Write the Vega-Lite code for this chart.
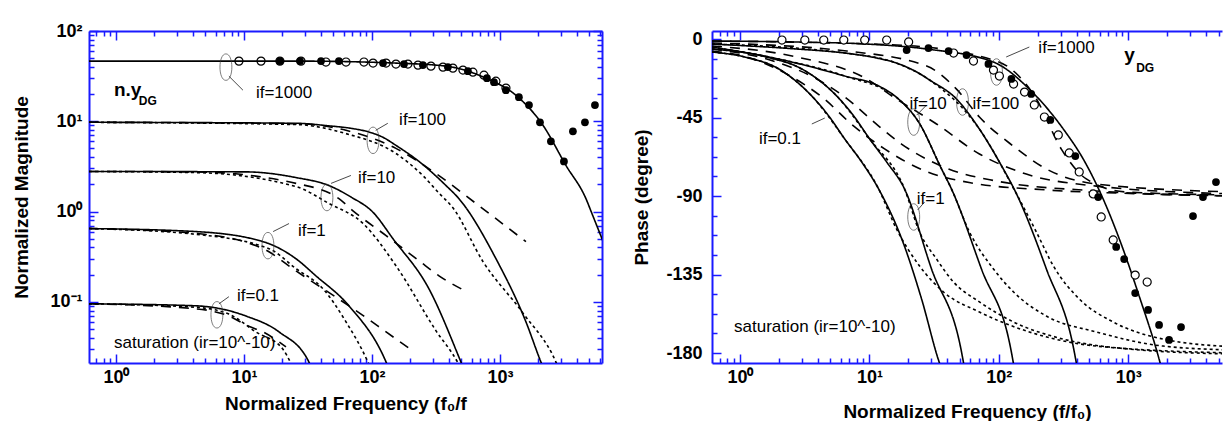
{
  "$schema": "https://vega.github.io/schema/vega-lite/v6.json",
  "padding": {"left": 12, "top": 22, "right": 0, "bottom": 0},
  "spacing": 110,
  "bounds": "flush",
  "background": "white",
  "config": {
    "view": {"stroke": null},
    "axis": {
      "grid": false,
      "domainColor": "#1a1aff",
      "domainWidth": 2,
      "tickColor": "#1a1aff",
      "tickWidth": 1.5,
      "labelFont": "Liberation Sans",
      "labelFontWeight": "bold",
      "labelFontSize": 18,
      "labelColor": "black",
      "labelOverlap": false,
      "labelFlush": false,
      "titleFont": "Liberation Sans",
      "titleFontWeight": "bold",
      "titleFontSize": 19,
      "titleColor": "black"
    }
  },
  "datasets": {
    "magCurves": [
      {"c":"1000s","s":"solid","f":0.616,"m":46.4},{"c":"1000s","s":"solid","f":25.5,"m":46.4},{"c":"1000s","s":"solid","f":154,"m":44.1},{"c":"1000s","s":"solid","f":379,"m":40.8},{"c":"1000s","s":"solid","f":777,"m":30.0},{"c":"1000s","s":"solid","f":1334,"m":19.4},{"c":"1000s","s":"solid","f":2168,"m":9.03},{"c":"1000s","s":"solid","f":3280,"m":3.24},{"c":"1000s","s":"solid","f":4696,"m":1.39},{"c":"1000s","s":"solid","f":5233,"m":0.95},{"c":"1000s","s":"solid","f":5829,"m":0.648},{"c":"1000s","s":"solid","f":6730,"m":0.388},

      {"c":"100s","s":"solid","f":0.616,"m":9.75},{"c":"100s","s":"solid","f":25.5,"m":9.5},{"c":"100s","s":"solid","f":46.1,"m":8.9},{"c":"100s","s":"solid","f":68.5,"m":8.36},{"c":"100s","s":"solid","f":94.8,"m":7.6},{"c":"100s","s":"solid","f":122,"m":6.64},{"c":"100s","s":"solid","f":154,"m":5.41},{"c":"100s","s":"solid","f":233,"m":3.59},{"c":"100s","s":"solid","f":379,"m":1.94},{"c":"100s","s":"solid","f":478,"m":1.39},{"c":"100s","s":"solid","f":931,"m":0.30},{"c":"100s","s":"solid","f":1596,"m":0.060},{"c":"100s","s":"solid","f":2091,"m":0.0215},{"c":"100s","s":"solid","f":2287,"m":0.0158},
      {"c":"100l","s":"long","f":0.616,"m":9.75},{"c":"100l","s":"long","f":25.5,"m":9.4},{"c":"100l","s":"long","f":62.7,"m":7.94},{"c":"100l","s":"long","f":154,"m":5.01},{"c":"100l","s":"long","f":316,"m":2.64},{"c":"100l","s":"long","f":649,"m":1.23},{"c":"100l","s":"long","f":1596,"m":0.464},
      {"c":"100d","s":"short","f":0.616,"m":9.75},{"c":"100d","s":"short","f":25.5,"m":9.2},{"c":"100d","s":"short","f":62.7,"m":7.3},{"c":"100d","s":"short","f":154,"m":4.4},{"c":"100d","s":"short","f":250,"m":2.5},{"c":"100d","s":"short","f":334,"m":1.6},{"c":"100d","s":"short","f":429,"m":1.1},{"c":"100d","s":"short","f":736,"m":0.28},{"c":"100d","s":"short","f":1513,"m":0.075},{"c":"100d","s":"short","f":2738,"m":0.0215},{"c":"100d","s":"short","f":2997,"m":0.0158},

      {"c":"10s","s":"solid","f":0.616,"m":2.78},{"c":"10s","s":"solid","f":10.4,"m":2.75},{"c":"10s","s":"solid","f":25.5,"m":2.38},{"c":"10s","s":"solid","f":46.1,"m":1.94},{"c":"10s","s":"solid","f":68.5,"m":1.45},{"c":"10s","s":"solid","f":102,"m":0.98},{"c":"10s","s":"solid","f":146,"m":0.50},{"c":"10s","s":"solid","f":279,"m":0.139},{"c":"10s","s":"solid","f":496,"m":0.0215},{"c":"10s","s":"solid","f":542,"m":0.0158},
      {"c":"10l","s":"long","f":0.616,"m":2.78},{"c":"10l","s":"long","f":4.22,"m":2.75},{"c":"10l","s":"long","f":25.5,"m":2.05},{"c":"10l","s":"long","f":55.2,"m":1.39},{"c":"10l","s":"long","f":72.3,"m":1.0},{"c":"10l","s":"long","f":129,"m":0.541},{"c":"10l","s":"long","f":233,"m":0.285},{"c":"10l","s":"long","f":334,"m":0.194},{"c":"10l","s":"long","f":514,"m":0.136},
      {"c":"10d","s":"short","f":0.616,"m":2.78},{"c":"10d","s":"short","f":4.22,"m":2.7},{"c":"10d","s":"short","f":25.5,"m":1.89},{"c":"10d","s":"short","f":46.1,"m":1.23},{"c":"10d","s":"short","f":85.1,"m":0.739},{"c":"10d","s":"short","f":154,"m":0.251},{"c":"10d","s":"short","f":316,"m":0.048},{"c":"10d","s":"short","f":470,"m":0.021},{"c":"10d","s":"short","f":520,"m":0.0158},

      {"c":"1s","s":"solid","f":0.616,"m":0.648},{"c":"1s","s":"solid","f":4.22,"m":0.60},{"c":"1s","s":"solid","f":14.1,"m":0.464},{"c":"1s","s":"solid","f":25.5,"m":0.30},{"c":"1s","s":"solid","f":36.5,"m":0.194},{"c":"1s","s":"solid","f":66.1,"m":0.0903},{"c":"1s","s":"solid","f":129,"m":0.0215},{"c":"1s","s":"solid","f":141,"m":0.0158},
      {"c":"1l","s":"long","f":0.616,"m":0.648},{"c":"1l","s":"long","f":4.22,"m":0.573},{"c":"1l","s":"long","f":14.1,"m":0.388},{"c":"1l","s":"long","f":25.5,"m":0.22},{"c":"1l","s":"long","f":86.6,"m":0.0695},{"c":"1l","s":"long","f":129,"m":0.0464},{"c":"1l","s":"long","f":209,"m":0.0285},
      {"c":"1d","s":"short","f":0.616,"m":0.648},{"c":"1d","s":"short","f":4.22,"m":0.559},{"c":"1d","s":"short","f":15.7,"m":0.388},{"c":"1d","s":"short","f":25.5,"m":0.233},{"c":"1d","s":"short","f":41.5,"m":0.139},{"c":"1d","s":"short","f":62.7,"m":0.060},{"c":"1d","s":"short","f":93.0,"m":0.0215},{"c":"1d","s":"short","f":102,"m":0.0158},

      {"c":"01s","s":"solid","f":0.616,"m":0.0951},{"c":"01s","s":"solid","f":4.22,"m":0.0903},{"c":"01s","s":"solid","f":10.4,"m":0.0695},{"c":"01s","s":"solid","f":18.8,"m":0.0464},{"c":"01s","s":"solid","f":32.2,"m":0.0215},{"c":"01s","s":"solid","f":34.0,"m":0.0158},
      {"c":"01l","s":"long","f":0.616,"m":0.0951},{"c":"01l","s":"long","f":4.22,"m":0.0836},{"c":"01l","s":"long","f":7.63,"m":0.0695},{"c":"01l","s":"long","f":10.9,"m":0.0536},{"c":"01l","s":"long","f":14.1,"m":0.0464},{"c":"01l","s":"long","f":21.3,"m":0.0316},
      {"c":"01d","s":"short","f":0.616,"m":0.0951},{"c":"01d","s":"short","f":4.22,"m":0.087},{"c":"01d","s":"short","f":7.63,"m":0.0731},{"c":"01d","s":"short","f":12.4,"m":0.0464},{"c":"01d","s":"short","f":20.1,"m":0.030},{"c":"01d","s":"short","f":23.3,"m":0.0208}
    ],
    "magPts": [
      {"k":"o","f":9.14,"m":46.4},{"k":"o","f":13.6,"m":46.4},{"k":"o","f":19.1,"m":46.4},{"k":"o","f":27.9,"m":46.4},{"k":"o","f":43.7,"m":45.3},{"k":"o","f":62.7,"m":45.3},{"k":"o","f":86.6,"m":45.3},{"k":"o","f":102,"m":44.1},{"k":"o","f":129,"m":44.1},{"k":"o","f":154,"m":43.0},{"k":"o","f":191,"m":43.0},{"k":"o","f":229,"m":41.9},{"k":"o","f":289,"m":40.8},{"k":"o","f":359,"m":39.8},{"k":"o","f":429,"m":38.8},{"k":"o","f":514,"m":36.9},{"k":"o","f":615,"m":35.0},{"k":"o","f":750,"m":32.4},{"k":"o","f":930,"m":27.8},{"k":"o","f":1114,"m":23.3},
      {"k":"f","f":19.1,"m":46.4},{"k":"f","f":27.4,"m":46.4},{"k":"f","f":40,"m":46.4},{"k":"f","f":55.2,"m":46.4},{"k":"f","f":122,"m":44.1},{"k":"f","f":178,"m":43.0},{"k":"f","f":250,"m":41.9},{"k":"f","f":392,"m":39.8},{"k":"f","f":562,"m":35.9},{"k":"f","f":791,"m":30.0},{"k":"f","f":898,"m":27.1},{"k":"f","f":1114,"m":22.1},{"k":"f","f":1406,"m":18.5},{"k":"f","f":1686,"m":15.1},{"k":"f","f":2054,"m":9.75},{"k":"f","f":2500,"m":6.0},{"k":"f","f":3162,"m":3.59},{"k":"f","f":3715,"m":7.74},{"k":"f","f":4614,"m":9.75},{"k":"f","f":5524,"m":15.1}
    ],
    "magText": [
      {"k":"b","f":0.965,"m":18.9,"t":"n.y"},{"k":"s","f":1.51,"m":15.1,"t":"DG"},
      {"k":"n","f":12.4,"m":18.0,"t":"if=1000"},{"k":"n","f":163,"m":9.03,"t":"if=100"},{"k":"n","f":77.8,"m":2.05,"t":"if=10"},{"k":"n","f":26.4,"m":0.541,"t":"if=1"},{"k":"n","f":8.82,"m":0.103,"t":"if=0.1"},{"k":"n","f":0.965,"m":0.0308,"t":"saturation (ir=10^-10)"}
    ],
    "magEll": [
      {"f":7.23,"m":39.8},{"f":102,"m":6.15},{"f":44.5,"m":1.43},{"f":15.4,"m":0.419},{"f":6.15,"m":0.0718}
    ],
    "magLead": [
      {"f":7.63,"m":31.6,"f2":9.82,"m2":22.1},{"f":107,"m":7.94,"f2":133,"m2":9.5},{"f":47.9,"m":2.05,"f2":68.5,"m2":2.51},{"f":16.9,"m":0.6,"f2":22.5,"m2":0.736},{"f":6.38,"m":0.0951,"f2":7.63,"m2":0.114}
    ],
    "phCurves": [
      {"c":"1000s","s":"solid","f":0.608,"p":-1.15},{"c":"1000s","s":"solid","f":2.75,"p":-1.72},{"c":"1000s","s":"solid","f":9.53,"p":-2.87},{"c":"1000s","s":"solid","f":27.7,"p":-5.73},{"c":"1000s","s":"solid","f":90.9,"p":-13.2},{"c":"1000s","s":"solid","f":172,"p":-28.7},{"c":"1000s","s":"solid","f":315,"p":-51.6},{"c":"1000s","s":"solid","f":449,"p":-68.8},{"c":"1000s","s":"solid","f":640,"p":-91.7},{"c":"1000s","s":"solid","f":882,"p":-117.5},{"c":"1000s","s":"solid","f":1214,"p":-147.3},{"c":"1000s","s":"solid","f":1730,"p":-183.4},{"c":"1000s","s":"solid","f":1858,"p":-192},

      {"c":"100s","s":"solid","f":0.608,"p":-2.87},{"c":"100s","s":"solid","f":2.75,"p":-5.73},{"c":"100s","s":"solid","f":6.45,"p":-8.02},{"c":"100s","s":"solid","f":11.4,"p":-10.9},{"c":"100s","s":"solid","f":16.2,"p":-13.8},{"c":"100s","s":"solid","f":23.2,"p":-18.9},{"c":"100s","s":"solid","f":29.2,"p":-23.5},{"c":"100s","s":"solid","f":47.1,"p":-34.4},{"c":"100s","s":"solid","f":70.8,"p":-51.6},{"c":"100s","s":"solid","f":101,"p":-70.5},{"c":"100s","s":"solid","f":137,"p":-88.8},{"c":"100s","s":"solid","f":233,"p":-131.8},{"c":"100s","s":"solid","f":383,"p":-179.4},{"c":"100s","s":"solid","f":411,"p":-192},

      {"c":"10s","s":"solid","f":0.608,"p":-4.59},{"c":"10s","s":"solid","f":2.0,"p":-11.5},{"c":"10s","s":"solid","f":6.45,"p":-21.2},{"c":"10s","s":"solid","f":11.8,"p":-26.9},{"c":"10s","s":"solid","f":16.8,"p":-34.4},{"c":"10s","s":"solid","f":24.0,"p":-47.6},{"c":"10s","s":"solid","f":36.1,"p":-74.5},{"c":"10s","s":"solid","f":43.1,"p":-86.0},{"c":"10s","s":"solid","f":73.4,"p":-131.8},{"c":"10s","s":"solid","f":125,"p":-179.4},{"c":"10s","s":"solid","f":134,"p":-192},

      {"c":"1s","s":"solid","f":0.608,"p":-5.73},{"c":"1s","s":"solid","f":1.61,"p":-10.3},{"c":"1s","s":"solid","f":3.01,"p":-17.2},{"c":"1s","s":"solid","f":5.60,"p":-32.7},{"c":"1s","s":"solid","f":7.57,"p":-44.1},{"c":"1s","s":"solid","f":10.05,"p":-57.3},{"c":"1s","s":"solid","f":13.6,"p":-70.5},{"c":"1s","s":"solid","f":18.7,"p":-86.0},{"c":"1s","s":"solid","f":30.2,"p":-131.8},{"c":"1s","s":"solid","f":51.5,"p":-179.4},{"c":"1s","s":"solid","f":55.3,"p":-192},

      {"c":"01s","s":"solid","f":0.608,"p":-7.45},{"c":"01s","s":"solid","f":1.09,"p":-10.3},{"c":"01s","s":"solid","f":2.0,"p":-17.2},{"c":"01s","s":"solid","f":3.59,"p":-32.7},{"c":"01s","s":"solid","f":4.85,"p":-44.1},{"c":"01s","s":"solid","f":6.45,"p":-57.3},{"c":"01s","s":"solid","f":8.72,"p":-70.5},{"c":"01s","s":"solid","f":11.8,"p":-86.0},{"c":"01s","s":"solid","f":18.4,"p":-117.5},{"c":"01s","s":"solid","f":25.3,"p":-149.0},{"c":"01s","s":"solid","f":34.8,"p":-185.7},{"c":"01s","s":"solid","f":37.4,"p":-192},

      {"c":"01l","s":"long","f":0.608,"p":-6.88},{"c":"01l","s":"long","f":1.13,"p":-10.3},{"c":"01l","s":"long","f":2.30,"p":-20.1},{"c":"01l","s":"long","f":4.29,"p":-33.2},{"c":"01l","s":"long","f":7.70,"p":-50.4},{"c":"01l","s":"long","f":13.1,"p":-63.0},{"c":"01l","s":"long","f":26.7,"p":-75.5},{"c":"01l","s":"long","f":61.5,"p":-82.5},{"c":"01l","s":"long","f":233,"p":-86.5},{"c":"01l","s":"long","f":1374,"p":-88.8},{"c":"01l","s":"long","f":6792,"p":-90.0},
      {"c":"1l","s":"long","f":0.608,"p":-5.73},{"c":"1l","s":"long","f":1.61,"p":-11.5},{"c":"1l","s":"long","f":3.92,"p":-22.9},{"c":"1l","s":"long","f":6.45,"p":-33.2},{"c":"1l","s":"long","f":11.8,"p":-49.9},{"c":"1l","s":"long","f":17.7,"p":-60.2},{"c":"1l","s":"long","f":40.9,"p":-74.5},{"c":"1l","s":"long","f":95.9,"p":-81.4},{"c":"1l","s":"long","f":566,"p":-87.1},{"c":"1l","s":"long","f":6792,"p":-90.0},
      {"c":"10l","s":"long","f":0.608,"p":-4.01},{"c":"10l","s":"long","f":2.75,"p":-10.3},{"c":"10l","s":"long","f":9.53,"p":-22.9},{"c":"10l","s":"long","f":16.2,"p":-34.4},{"c":"10l","s":"long","f":33.0,"p":-48.7},{"c":"10l","s":"long","f":70.8,"p":-65.9},{"c":"10l","s":"long","f":163,"p":-77.4},{"c":"10l","s":"long","f":566,"p":-84.3},{"c":"10l","s":"long","f":6792,"p":-88.8},
      {"c":"100l","s":"long","f":0.608,"p":-2.29},{"c":"100l","s":"long","f":6.68,"p":-6.88},{"c":"100l","s":"long","f":27.7,"p":-15.5},{"c":"100l","s":"long","f":47.1,"p":-28.7},{"c":"100l","s":"long","f":70.8,"p":-44.7},{"c":"100l","s":"long","f":130,"p":-61.5},{"c":"100l","s":"long","f":233,"p":-74.5},{"c":"100l","s":"long","f":566,"p":-83.1},{"c":"100l","s":"long","f":6792,"p":-87.7},
      {"c":"1000l","s":"long","f":0.608,"p":-1.15},{"c":"1000l","s":"long","f":16.2,"p":-3.44},{"c":"1000l","s":"long","f":95.9,"p":-12.6},{"c":"1000l","s":"long","f":195,"p":-34.4},{"c":"1000l","s":"long","f":304,"p":-63.1},{"c":"1000l","s":"long","f":474,"p":-80.2},{"c":"1000l","s":"long","f":963,"p":-87.7},{"c":"1000l","s":"long","f":6792,"p":-89.4},

      {"c":"01d","s":"short","f":0.608,"p":-7.45},{"c":"01d","s":"short","f":1.09,"p":-10.3},{"c":"01d","s":"short","f":2.0,"p":-17.2},{"c":"01d","s":"short","f":3.59,"p":-32.7},{"c":"01d","s":"short","f":6.45,"p":-57.3},{"c":"01d","s":"short","f":11.8,"p":-86.0},{"c":"01d","s":"short","f":16.2,"p":-108.9},{"c":"01d","s":"short","f":24.4,"p":-130.1},{"c":"01d","s":"short","f":37.4,"p":-145.0},{"c":"01d","s":"short","f":70.8,"p":-156.5},{"c":"01d","s":"short","f":172,"p":-167.9},{"c":"01d","s":"short","f":566,"p":-176.0},{"c":"01d","s":"short","f":6792,"p":-180.0},
      {"c":"1d","s":"short","f":0.608,"p":-5.73},{"c":"1d","s":"short","f":1.61,"p":-10.3},{"c":"1d","s":"short","f":3.01,"p":-17.2},{"c":"1d","s":"short","f":5.60,"p":-32.7},{"c":"1d","s":"short","f":10.05,"p":-57.3},{"c":"1d","s":"short","f":18.7,"p":-86.0},{"c":"1d","s":"short","f":24.4,"p":-110.6},{"c":"1d","s":"short","f":33.0,"p":-126.1},{"c":"1d","s":"short","f":44.7,"p":-139.3},{"c":"1d","s":"short","f":70.8,"p":-150.7},{"c":"1d","s":"short","f":130,"p":-162.2},{"c":"1d","s":"short","f":315,"p":-172.0},{"c":"1d","s":"short","f":1016,"p":-177.7},{"c":"1d","s":"short","f":6792,"p":-180.6},
      {"c":"10d","s":"short","f":0.608,"p":-4.59},{"c":"10d","s":"short","f":2.0,"p":-11.5},{"c":"10d","s":"short","f":6.45,"p":-21.2},{"c":"10d","s":"short","f":16.8,"p":-34.4},{"c":"10d","s":"short","f":24.0,"p":-47.6},{"c":"10d","s":"short","f":36.1,"p":-74.5},{"c":"10d","s":"short","f":43.1,"p":-86.0},{"c":"10d","s":"short","f":59.3,"p":-110.6},{"c":"10d","s":"short","f":90.9,"p":-131.8},{"c":"10d","s":"short","f":130,"p":-145.0},{"c":"10d","s":"short","f":233,"p":-158.8},{"c":"10d","s":"short","f":566,"p":-167.9},{"c":"10d","s":"short","f":1858,"p":-176.0},{"c":"10d","s":"short","f":6792,"p":-178.3},
      {"c":"100d","s":"short","f":0.608,"p":-2.87},{"c":"100d","s":"short","f":6.45,"p":-8.02},{"c":"100d","s":"short","f":16.2,"p":-13.8},{"c":"100d","s":"short","f":29.2,"p":-23.5},{"c":"100d","s":"short","f":70.8,"p":-51.6},{"c":"100d","s":"short","f":137,"p":-88.8},{"c":"100d","s":"short","f":195,"p":-110.6},{"c":"100d","s":"short","f":264,"p":-130.1},{"c":"100d","s":"short","f":418,"p":-149.0},{"c":"100d","s":"short","f":765,"p":-162.2},{"c":"100d","s":"short","f":1858,"p":-172.0},{"c":"100d","s":"short","f":6792,"p":-176.5}
    ],
    "phPts": [
      {"k":"o","f":2.11,"p":-0.57},{"k":"o","f":3.17,"p":-0.57},{"k":"o","f":4.44,"p":-0.57},{"k":"o","f":6.34,"p":-0.57},{"k":"o","f":9.20,"p":-0.57},{"k":"o","f":13.6,"p":-0.57},{"k":"o","f":20.1,"p":-1.7},
      {"k":"o","f":44.7,"p":-8.02},{"k":"o","f":63.7,"p":-12.6},{"k":"o","f":90.9,"p":-17.8},{"k":"o","f":101,"p":-21.2},{"k":"o","f":130,"p":-25.8},{"k":"o","f":158,"p":-30.4},{"k":"o","f":188,"p":-37.8},{"k":"o","f":225,"p":-44.7},{"k":"o","f":288,"p":-55.0},{"k":"o","f":350,"p":-65.3},{"k":"o","f":418,"p":-76.2},{"k":"o","f":536,"p":-88.8},{"k":"o","f":618,"p":-102.0},{"k":"o","f":765,"p":-115.2},{"k":"o","f":1131,"p":-135.3},{"k":"o","f":1400,"p":-139.3},
      {"k":"f","f":19.4,"p":-6.31},{"k":"f","f":28.6,"p":-5.16},{"k":"f","f":40.9,"p":-6.88},{"k":"f","f":56.3,"p":-9.17},{"k":"f","f":83.1,"p":-14.3},{"k":"f","f":125,"p":-22.9},{"k":"f","f":178,"p":-31.5},{"k":"f","f":250,"p":-46.4},{"k":"f","f":390,"p":-67.1},{"k":"f","f":586,"p":-90.6},{"k":"f","f":807,"p":-119.2},{"k":"f","f":930,"p":-126.1},{"k":"f","f":1131,"p":-145.6},{"k":"f","f":1423,"p":-155.3},{"k":"f","f":1730,"p":-163.9},{"k":"f","f":2067,"p":-172.5},{"k":"f","f":2557,"p":-165.1},{"k":"f","f":3164,"p":-101.5},{"k":"f","f":3779,"p":-90.6},{"k":"f","f":4761,"p":-82.0}
    ],
    "phText": [
      {"k":"n","f":202,"p":-8.0,"t":"if=1000"},{"k":"b","f":930,"p":-12.6,"t":"y"},{"k":"s","f":1151,"p":-18.9,"t":"DG"},
      {"k":"n","f":20.4,"p":-40.1,"t":"if=10"},{"k":"n","f":62.6,"p":-40.1,"t":"if=100"},{"k":"n","f":23.2,"p":-94.6,"t":"if=1"},{"k":"n","f":1.40,"p":-60.2,"t":"if=0.1"},{"k":"n","f":0.90,"p":-167.9,"t":"saturation (ir=10^-10)"}
    ],
    "phEll": [
      {"f":95.9,"p":-18.9},{"f":22.0,"p":-47.6},{"f":52.4,"p":-36.1},{"f":22.0,"p":-102.0}
    ],
    "phLead": [
      {"f":114,"p":-10.3,"f2":172,"p2":-4.59},{"f":23.2,"p":-43.6,"f2":27.7,"p2":-37.8},{"f":23.6,"p":-98.0,"f2":26.7,"p2":-93.4},{"f":3.59,"p":-48.7,"f2":4.52,"p2":-45.3}
    ]
  },
  "hconcat": [
    {
      "width": 513,
      "height": 332,
      "resolve": {"axis": {"x": "independent", "y": "independent"}},
      "layer": [
        {
          "data": {"name": "magCurves"},
          "mark": {"type": "line", "clip": true, "color": "black", "strokeWidth": 1.6, "interpolate": "monotone"},
          "encoding": {
            "x": {"field": "f", "type": "quantitative", "scale": {"type": "log", "domain": [0.616, 6270], "nice": false},
                  "axis": {"orient": "bottom", "title": "Normalized Frequency (f₀/f", "titlePadding": 4,
                           "values": [0.7,0.8,0.9,1,2,3,4,5,6,7,8,9,10,20,30,40,50,60,70,80,90,100,200,300,400,500,600,700,800,900,1000,2000,3000,4000,5000,6000],
                           "labelExpr": "datum.value==1?'10⁰':datum.value==10?'10¹':datum.value==100?'10²':datum.value==1000?'10³':''",
                           "tickSize": {"condition": {"test": "indexof([1,10,100,1000], datum.value) >= 0", "value": -9}, "value": -5},
                           "labelPadding": 14}},
            "y": {"field": "m", "type": "quantitative", "scale": {"type": "log", "domain": [0.021, 100], "nice": false},
                  "axis": {"orient": "left", "title": "Normalized Magnitude", "titlePadding": 18,
                           "values": [0.03,0.04,0.05,0.06,0.07,0.08,0.09,0.1,0.2,0.3,0.4,0.5,0.6,0.7,0.8,0.9,1,2,3,4,5,6,7,8,9,10,20,30,40,50,60,70,80,90,100],
                           "labelExpr": "datum.value==0.1?'10⁻¹':datum.value==1?'10⁰':datum.value==10?'10¹':datum.value==100?'10²':''",
                           "tickSize": {"condition": {"test": "indexof([0.1,1,10,100], datum.value) >= 0", "value": -9}, "value": -5},
                           "labelPadding": 16}},
            "detail": {"field": "c"},
            "strokeDash": {"field": "s", "type": "nominal", "scale": {"domain": ["solid", "long", "short"], "range": [[1, 0], [10, 8], [3, 3]]}, "legend": null}
          }
        },
        {
          "data": {"name": "magEll"},
          "mark": {"type": "point", "shape": "M0,-1C0.6,-1,0.6,1,0,1C-0.6,1,-0.6,-1,0,-1Z", "filled": false, "stroke": "#333", "strokeWidth": 0.9, "size": 700, "clip": true},
          "encoding": {
            "x": {"field": "f", "type": "quantitative", "scale": {"type": "log"}, "axis": null},
            "y": {"field": "m", "type": "quantitative", "scale": {"type": "log"}, "axis": null}
          }
        },
        {
          "data": {"name": "magLead"},
          "mark": {"type": "rule", "stroke": "#333", "strokeWidth": 0.9},
          "encoding": {
            "x": {"field": "f", "type": "quantitative", "scale": {"type": "log"}, "axis": null},
            "y": {"field": "m", "type": "quantitative", "scale": {"type": "log"}, "axis": null},
            "x2": {"field": "f2"},
            "y2": {"field": "m2"}
          }
        },
        {
          "data": {"name": "magPts"},
          "transform": [{"filter": "datum.k=='o'"}],
          "mark": {"type": "point", "filled": false, "stroke": "black", "strokeWidth": 1.2, "size": 65, "opacity": 1, "clip": true},
          "encoding": {
            "x": {"field": "f", "type": "quantitative", "scale": {"type": "log"}, "axis": null},
            "y": {"field": "m", "type": "quantitative", "scale": {"type": "log"}, "axis": null}
          }
        },
        {
          "data": {"name": "magPts"},
          "transform": [{"filter": "datum.k=='f'"}],
          "mark": {"type": "point", "filled": true, "color": "black", "opacity": 1, "size": 60, "clip": true},
          "encoding": {
            "x": {"field": "f", "type": "quantitative", "scale": {"type": "log"}, "axis": null},
            "y": {"field": "m", "type": "quantitative", "scale": {"type": "log"}, "axis": null}
          }
        },
        {
          "data": {"name": "magText"},
          "transform": [{"filter": "datum.k=='n'"}],
          "mark": {"type": "text", "align": "left", "baseline": "alphabetic", "font": "Liberation Sans", "fontSize": 17, "color": "black"},
          "encoding": {
            "x": {"field": "f", "type": "quantitative", "scale": {"type": "log"}, "axis": null},
            "y": {"field": "m", "type": "quantitative", "scale": {"type": "log"}, "axis": null},
            "text": {"field": "t"}
          }
        },
        {
          "data": {"name": "magText"},
          "transform": [{"filter": "datum.k=='b'"}],
          "mark": {"type": "text", "align": "left", "baseline": "alphabetic", "font": "Liberation Sans", "fontWeight": "bold", "fontSize": 19, "color": "black"},
          "encoding": {
            "x": {"field": "f", "type": "quantitative", "scale": {"type": "log"}, "axis": null},
            "y": {"field": "m", "type": "quantitative", "scale": {"type": "log"}, "axis": null},
            "text": {"field": "t"}
          }
        },
        {
          "data": {"name": "magText"},
          "transform": [{"filter": "datum.k=='s'"}],
          "mark": {"type": "text", "align": "left", "baseline": "alphabetic", "font": "Liberation Sans", "fontWeight": "bold", "fontSize": 12, "color": "black"},
          "encoding": {
            "x": {"field": "f", "type": "quantitative", "scale": {"type": "log"}, "axis": null},
            "y": {"field": "m", "type": "quantitative", "scale": {"type": "log"}, "axis": null},
            "text": {"field": "t"}
          }
        },
        {
          "data": {"name": "magCurves"},
          "mark": {"type": "point", "opacity": 0},
          "encoding": {
            "x": {"field": "f", "type": "quantitative", "scale": {"type": "log"},
                  "axis": {"orient": "top", "title": null, "labels": false,
                           "values": [0.7,0.8,0.9,1,2,3,4,5,6,7,8,9,10,20,30,40,50,60,70,80,90,100,200,300,400,500,600,700,800,900,1000,2000,3000,4000,5000,6000],
                           "tickSize": {"condition": {"test": "indexof([1,10,100,1000], datum.value) >= 0", "value": -9}, "value": -5}}},
            "y": {"field": "m", "type": "quantitative", "scale": {"type": "log"},
                  "axis": {"orient": "right", "title": null, "labels": false,
                           "values": [0.03,0.04,0.05,0.06,0.07,0.08,0.09,0.1,0.2,0.3,0.4,0.5,0.6,0.7,0.8,0.9,1,2,3,4,5,6,7,8,9,10,20,30,40,50,60,70,80,90,100],
                           "tickSize": {"condition": {"test": "indexof([0.1,1,10,100], datum.value) >= 0", "value": -9}, "value": -5}}}
          }
        }
      ]
    },
    {
      "width": 510,
      "height": 332,
      "resolve": {"axis": {"x": "independent", "y": "independent"}},
      "layer": [
        {
          "data": {"name": "phCurves"},
          "mark": {"type": "line", "clip": true, "color": "black", "strokeWidth": 1.6, "interpolate": "monotone"},
          "encoding": {
            "x": {"field": "f", "type": "quantitative", "scale": {"type": "log", "domain": [0.608, 5300], "nice": false},
                  "axis": {"orient": "bottom", "title": "Normalized Frequency (f/f₀)", "titlePadding": 12,
                           "values": [0.7,0.8,0.9,1,2,3,4,5,6,7,8,9,10,20,30,40,50,60,70,80,90,100,200,300,400,500,600,700,800,900,1000,2000,3000,4000,5000],
                           "labelExpr": "datum.value==1?'10⁰':datum.value==10?'10¹':datum.value==100?'10²':datum.value==1000?'10³':''",
                           "tickSize": {"condition": {"test": "indexof([1,10,100,1000], datum.value) >= 0", "value": -9}, "value": -5},
                           "labelPadding": 14}},
            "y": {"field": "p", "type": "quantitative", "scale": {"domain": [-185.7, 4.6], "nice": false, "zero": false},
                  "axis": {"orient": "left", "title": "Phase (degree)", "titlePadding": 14,
                           "values": [0,-11.25,-22.5,-33.75,-45,-56.25,-67.5,-78.75,-90,-101.25,-112.5,-123.75,-135,-146.25,-157.5,-168.75,-180],
                           "labelExpr": "datum.value % 45 == 0 ? '' + datum.value : ''",
                           "tickSize": {"condition": {"test": "datum.value % 45 == 0", "value": -9}, "value": -5},
                           "labelPadding": 19}},
            "detail": {"field": "c"},
            "strokeDash": {"field": "s", "type": "nominal", "scale": {"domain": ["solid", "long", "short"], "range": [[1, 0], [10, 8], [2.5, 2.5]]}, "legend": null}
          }
        },
        {
          "data": {"name": "phEll"},
          "mark": {"type": "point", "shape": "M0,-1C0.6,-1,0.6,1,0,1C-0.6,1,-0.6,-1,0,-1Z", "filled": false, "stroke": "#333", "strokeWidth": 0.9, "size": 700, "clip": true},
          "encoding": {
            "x": {"field": "f", "type": "quantitative", "scale": {"type": "log"}, "axis": null},
            "y": {"field": "p", "type": "quantitative", "axis": null}
          }
        },
        {
          "data": {"name": "phLead"},
          "mark": {"type": "rule", "stroke": "#333", "strokeWidth": 0.9},
          "encoding": {
            "x": {"field": "f", "type": "quantitative", "scale": {"type": "log"}, "axis": null},
            "y": {"field": "p", "type": "quantitative", "axis": null},
            "x2": {"field": "f2"},
            "y2": {"field": "p2"}
          }
        },
        {
          "data": {"name": "phPts"},
          "transform": [{"filter": "datum.k=='o'"}],
          "mark": {"type": "point", "filled": true, "fill": "white", "stroke": "black", "strokeWidth": 1.2, "size": 65, "opacity": 1, "clip": true},
          "encoding": {
            "x": {"field": "f", "type": "quantitative", "scale": {"type": "log"}, "axis": null},
            "y": {"field": "p", "type": "quantitative", "axis": null}
          }
        },
        {
          "data": {"name": "phPts"},
          "transform": [{"filter": "datum.k=='f'"}],
          "mark": {"type": "point", "filled": true, "color": "black", "opacity": 1, "size": 60, "clip": true},
          "encoding": {
            "x": {"field": "f", "type": "quantitative", "scale": {"type": "log"}, "axis": null},
            "y": {"field": "p", "type": "quantitative", "axis": null}
          }
        },
        {
          "data": {"name": "phText"},
          "transform": [{"filter": "datum.k=='n'"}],
          "mark": {"type": "text", "align": "left", "baseline": "alphabetic", "font": "Liberation Sans", "fontSize": 17, "color": "black"},
          "encoding": {
            "x": {"field": "f", "type": "quantitative", "scale": {"type": "log"}, "axis": null},
            "y": {"field": "p", "type": "quantitative", "axis": null},
            "text": {"field": "t"}
          }
        },
        {
          "data": {"name": "phText"},
          "transform": [{"filter": "datum.k=='b'"}],
          "mark": {"type": "text", "align": "left", "baseline": "alphabetic", "font": "Liberation Sans", "fontWeight": "bold", "fontSize": 19, "color": "black"},
          "encoding": {
            "x": {"field": "f", "type": "quantitative", "scale": {"type": "log"}, "axis": null},
            "y": {"field": "p", "type": "quantitative", "axis": null},
            "text": {"field": "t"}
          }
        },
        {
          "data": {"name": "phText"},
          "transform": [{"filter": "datum.k=='s'"}],
          "mark": {"type": "text", "align": "left", "baseline": "alphabetic", "font": "Liberation Sans", "fontWeight": "bold", "fontSize": 12, "color": "black"},
          "encoding": {
            "x": {"field": "f", "type": "quantitative", "scale": {"type": "log"}, "axis": null},
            "y": {"field": "p", "type": "quantitative", "axis": null},
            "text": {"field": "t"}
          }
        },
        {
          "data": {"name": "phCurves"},
          "mark": {"type": "point", "opacity": 0},
          "encoding": {
            "x": {"field": "f", "type": "quantitative", "scale": {"type": "log"},
                  "axis": {"orient": "top", "title": null, "labels": false,
                           "values": [0.7,0.8,0.9,1,2,3,4,5,6,7,8,9,10,20,30,40,50,60,70,80,90,100,200,300,400,500,600,700,800,900,1000,2000,3000,4000,5000],
                           "tickSize": {"condition": {"test": "indexof([1,10,100,1000], datum.value) >= 0", "value": -9}, "value": -5}}},
            "y": {"field": "p", "type": "quantitative", "axis": null}
          }
        }
      ]
    }
  ]
}
